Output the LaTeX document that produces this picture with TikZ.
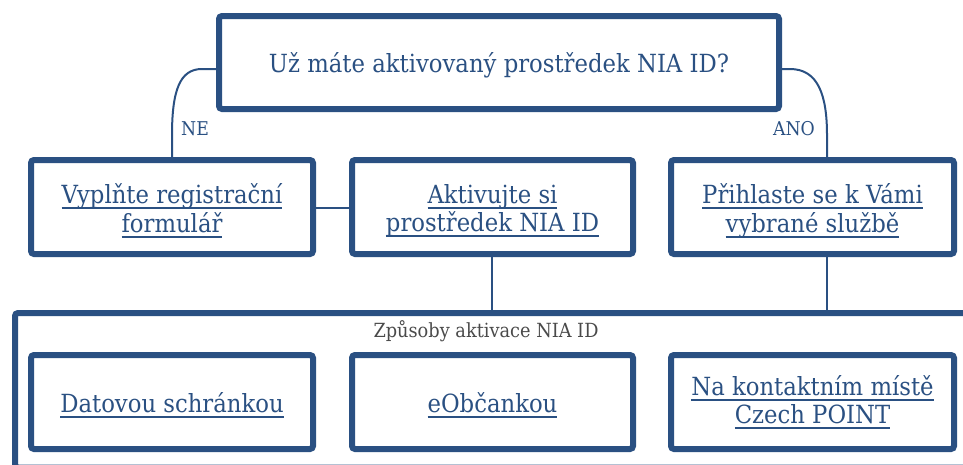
\documentclass[tikz,border=0pt]{standalone}
\usepackage{fontspec}
\setmainfont{DejaVu Serif}[FakeStretch=0.91]
\usetikzlibrary{calc}
\definecolor{niablue}{HTML}{2A5082}
\definecolor{labgrey}{HTML}{4A4A4A}
\newcommand\lnk[1]{\setbox0=\hbox{#1}\rlap{\vrule height -3.5pt depth 5.5pt width \wd0}\box0}
\newcommand\lowered[2]{\raisebox{-#1}[\height][\depth]{\begin{tabular}{@{}c@{}}#2\end{tabular}}}
\tikzset{
  boxst/.style={draw=niablue, line width=6pt, rounded corners=3pt, fill=white, text=niablue,
    align=center, inner sep=0pt, font=\fontsize{25}{28.5}\selectfont},
  conn/.style={draw=niablue, line width=2pt},
  lab/.style={text=niablue, font=\fontsize{19}{22}\selectfont, inner sep=0pt}
}
\begin{document}
\begin{tikzpicture}[x=1pt,y=-1pt]
\useasboundingbox (0,0) rectangle (963,464);
\clip (0,0) rectangle (963,464);
% connectors
\coordinate (neA) at (202,69);
\coordinate (neB) at (172,135);
\coordinate (anA) at (790,69);
\coordinate (anB) at (827,135);
\coordinate (anC) at (827,160);
\coordinate (anD) at (827,255);
\coordinate (ctop) at (827,313);
\coordinate (ctop2) at (492,313);
\draw[conn] (219,69) -- (neA) .. controls (180,69) and (172,90) .. (neB) -- (172,160);
\draw[conn] (779,69) -- (anA) .. controls (818,69) and (827,95) .. (anB) -- (anC);
\draw[conn] (313,208) -- (352,208);
\draw[conn] (492,255) -- (ctop2);
\draw[conn] (anD) -- (ctop);
% container
\draw[draw=niablue, line width=6pt, rounded corners=3pt] (15,313) rectangle (1000,467.5);
% top
\node[boxst, minimum width=560pt, minimum height=93pt] (top) at (499,62.5) {\lowered{4pt}{Už máte aktivovaný prostředek NIA ID?}};
\node[lab] (ne) at (195,129) {NE};
\node[lab] (ano) at (794,129) {ANO};
% row 2
\node[boxst, minimum width=282pt, minimum height=94pt] (b1) at (172,207) {\lowered{5pt}{\lnk{Vyplňte registrační}\\\lnk{formulář}}};
\node[boxst, minimum width=281pt, minimum height=94pt] (b2) at (492.5,207) {\lowered{5pt}{\lnk{Aktivujte si}\\\lnk{prostředek NIA ID}}};
\node[boxst, minimum width=283pt, minimum height=94pt] (b3) at (812.5,207) {\lowered{5pt}{\lnk{Přihlaste se k Vámi}\\\lnk{vybrané službě}}};
% container label
\node[lab, text=labgrey, font=\fontsize{19.5}{22}\selectfont] (clab) at (486,331) {Způsoby aktivace NIA ID};
% row 3
\node[boxst, minimum width=282pt, minimum height=94pt] (c1) at (172,402) {\lowered{5pt}{\lnk{Datovou schránkou}}};
\node[boxst, minimum width=281pt, minimum height=94pt] (c2) at (492.5,402) {\lowered{5pt}{\lnk{eObčankou}}};
\node[boxst, minimum width=283pt, minimum height=94pt] (c3) at (812.5,402) {\lowered{2pt}{\lnk{Na kontaktním místě}\\\lnk{Czech POINT}}};
\end{tikzpicture}
\end{document}
